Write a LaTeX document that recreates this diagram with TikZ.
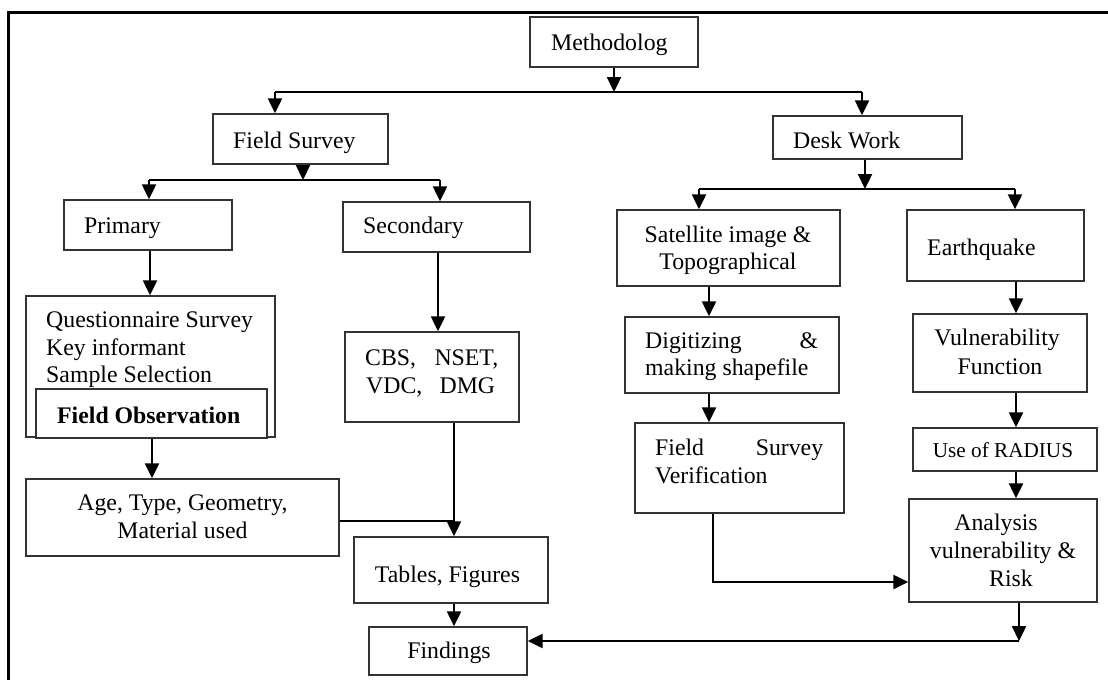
\documentclass[tikz,border=0pt]{standalone}
\usepackage{fontspec}
\setmainfont{Liberation Serif}
\usetikzlibrary{arrows.meta,fit}

\begin{document}
\begin{tikzpicture}[x=1pt,y=-1pt,
  box/.style={draw=black!80,line width=1.4pt,inner sep=0pt,fill=white},
  txt/.style={inner sep=0pt,font=\fontsize{23.8}{27.5}\selectfont},
  txtw/.style={txt,anchor=base west},
  txtc/.style={txt,anchor=base},
  link/.style={line width=2.3pt,black},
  arr/.style={link,-{Triangle[width=14pt,length=15pt]}}]

\useasboundingbox (0,0) rectangle (1108,680);

% page frame
\draw[line width=3pt] (1108,12) -- (8,12) -- (8,680);

% ---------- boxes ----------
\node[box,fit={(530,17) (698,67)}]   (meth) {};
\node[box,fit={(213,114) (388,164)}] (fs) {};
\node[box,fit={(773,116) (962,159)}] (dw) {};
\node[box,fit={(64,200) (232,250)}]  (prim) {};
\node[box,fit={(343,202) (530,252)}] (sec) {};
\node[box,fit={(26,296) (275,437)}]  (quest) {};
\node[box,fit={(36,389) (267,438)}]  (fobs) {};
\node[box,fit={(26,479) (339,556)}]  (age) {};
\node[box,fit={(345,332) (519,422)}] (cbs) {};
\node[box,fit={(354,537) (548,603)}] (tab) {};
\node[box,fit={(369,627) (527,675)}] (fi) {};
\node[box,fit={(617,210) (840,286)}] (sat) {};
\node[box,fit={(625,317) (839,393)}] (dig) {};
\node[box,fit={(635,423) (844,513)}] (fsv) {};
\node[box,fit={(907,210) (1084,281)}] (eq) {};
\node[box,fit={(913,314) (1087,392)}] (vul) {};
\node[box,fit={(913,428) (1097,471)}] (rad) {};
\node[box,fit={(909,499) (1097,602)}] (an) {};

% ---------- texts ----------
\node[txtw] (meth-t) at (551,50) {Methodolog};
\node[txtw] (fs-t) at (233,148) {Field Survey};
\node[txtw] (dw-t) at (793,148) {Desk Work};
\node[txtw] (prim-t) at (84,233) {Primary};
\node[txtw] (sec-t) at (363,233) {Secondary};
\node[txtw] (quest-t1) at (46,327) {Questionnaire Survey};
\node[txtw] (quest-t2) at (46,355) {Key informant};
\node[txtw] (quest-t3) at (46,382) {Sample Selection};
\node[txtw] (fobs-t) at (57,423) {\bfseries Field Observation};
\node[txtc] (age-t1) at (182.5,510) {Age, Type, Geometry,};
\node[txtc] (age-t2) at (182.5,538) {Material used};
\node[txtw] (cbs-t1) at (365,365) {\makebox[133pt]{CBS,\hfill NSET,}};
\node[txtw] (cbs-t2) at (366,393) {\makebox[129pt]{VDC,\hfill DMG}};
\node[txtc] (tab-t) at (447.5,582) {Tables, Figures};
\node[txtc] (fi-t) at (449,658) {Findings};
\node[txtc] (sat-t1) at (728,242) {Satellite image \&};
\node[txtc] (sat-t2) at (728,269) {Topographical};
\node[txtw] (dig-t1) at (645,348) {\makebox[173pt]{Digitizing\hfill\&}};
\node[txtw] (dig-t2) at (645,375) {making shapefile};
\node[txtw] (fsv-t1) at (655,455) {\makebox[168pt]{Field\hfill Survey}};
\node[txtw] (fsv-t2) at (655,483) {Verification};
\node[txtw] (eq-t) at (927,255) {Earthquake};
\node[txtc] (vul-t1) at (997,345) {Vulnerability};
\node[txtc] (vul-t2) at (1000,374) {Function};
\node[txt,anchor=base,font=\fontsize{21.2}{25}\selectfont] (rad-t) at (1003,457) {Use of RADIUS};
\node[txtc] (an-t1) at (996,530) {Analysis};
\node[txtc] (an-t2) at (1003,558) {vulnerability \&};
\node[txtc] (an-t3) at (1011,586) {Risk};

% ---------- junction points ----------
\coordinate (j0)  at (614,92);
\coordinate (j0l) at (275,92);
\coordinate (j0r) at (862,92);
\coordinate (j1)  at (303,180);
\coordinate (j1l) at (149,180);
\coordinate (j1r) at (440,180);
\coordinate (j2)  at (865,189);
\coordinate (j2l) at (699,189);
\coordinate (j2r) at (1015,189);
\coordinate (pq)  at (150,0);
\coordinate (fa)  at (152,0);
\coordinate (sc)  at (438,0);
\coordinate (t1)  at (454,521);
\coordinate (sd)  at (709,0);
\coordinate (ev)  at (1016,0);
\coordinate (k)   at (713,582);
\coordinate (m)   at (1019,641);

% ---------- connectors ----------
\draw[arr] (meth.south -| j0) -- (j0);
\draw[link] (j0l) -- (j0r);
\draw[arr] (j0l) -- (j0l |- fs.north);
\draw[arr] (j0r) -- (j0r |- dw.north);

\draw[arr] (fs.south -| j1) -- (j1);
\draw[link] (j1l) -- (j1r);
\draw[arr] (j1l) -- (j1l |- prim.north);
\draw[arr] (j1r) -- (j1r |- sec.north);

\draw[arr] (dw.south -| j2) -- (j2);
\draw[link] (j2l) -- (j2r);
\draw[arr] (j2l) -- (j2l |- sat.north);
\draw[arr] (j2r) -- (j2r |- eq.north);

\draw[arr] (prim.south -| pq) -- (pq |- quest.north);
\draw[arr] (fobs.south -| fa) -- (fa |- age.north);
\draw[arr] (sec.south -| sc) -- (sc |- cbs.north);
\draw[link] (age.east |- t1) -- (t1);
\draw[arr] (cbs.south -| t1) -- (t1 |- tab.north);
\draw[arr] (tab.south -| t1) -- (t1 |- fi.north);

\draw[arr] (sat.south -| sd) -- (sd |- dig.north);
\draw[arr] (dig.south -| sd) -- (sd |- fsv.north);
\draw[arr] (fsv.south -| k) -- (k) -- (an.west |- k);

\draw[arr] (eq.south -| ev) -- (ev |- vul.north);
\draw[arr] (vul.south -| ev) -- (ev |- rad.north);
\draw[arr] (rad.south -| ev) -- (ev |- an.north);
\draw[arr] (an.south -| m) -- (m);
\draw[arr] (m) -- (fi.east |- m);

\end{tikzpicture}
\end{document}
